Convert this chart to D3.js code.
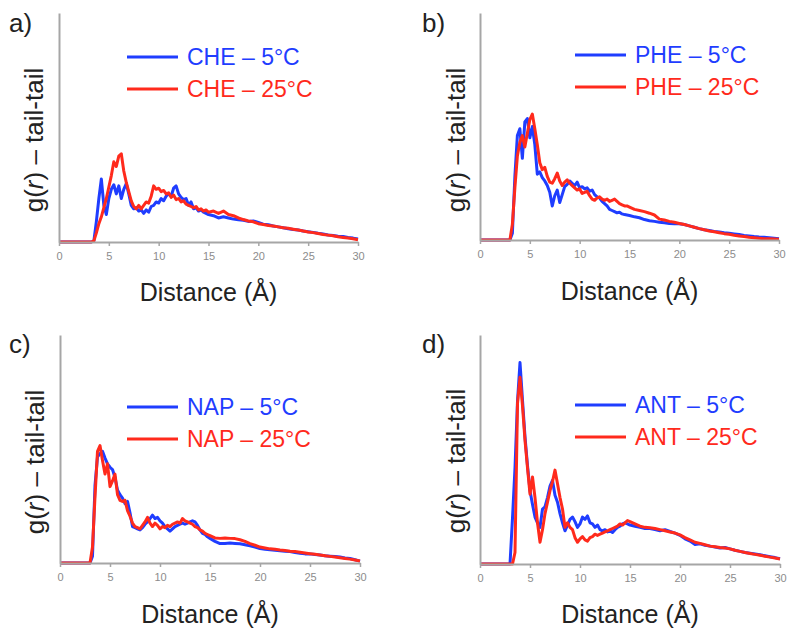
<!DOCTYPE html>
<html><head><meta charset="utf-8">
<script src="https://cdn.jsdelivr.net/npm/d3@7"></script>
<style>
body{margin:0;background:#fff}
svg{display:block}
text{font-family:"Liberation Sans",Arial,Helvetica,sans-serif}
</style>
</head><body>
<svg id="chart" width="800" height="639"></svg>
<script>
// ---------------- DATA ----------------
const distance = [0,
  3,3.25,3.5,3.75, 4,4.25,4.5,4.75, 5,5.25,5.5,5.75, 6,6.25,6.5,6.75,
  7,7.25,7.5,7.75, 8,8.25,8.5,8.75, 9,9.25,9.5,9.75, 10,10.25,10.5,10.75,
  11,11.25,11.5,11.75, 12,12.25,12.5,12.75, 13,13.25,13.5,13.75, 14,14.25,14.5,14.75, 15,
  15.5,16,16.5,17,17.5,18,18.5,19,19.5,20,
  20.5,21,21.5,22,22.5,23,23.5,24,24.5,25,
  25.5,26,26.5,27,27.5,28,28.5,29,29.5,30];

const cheCold = [0,
  0,0,0.05,0.9, 1.9,2.75,1.6,1.2, 1.9,2.3,2.5,2.1, 2.45,1.9,2.3,2.55,
  2.1,1.6,1.45,1.5, 1.35,1.4,1.25,1.4, 1.3,1.55,1.6,1.75, 1.7,1.9,1.8,2.0,
  2.1,2.0,2.35,2.45, 2.1,1.95,1.85,1.9, 1.6,1.75,1.45,1.5, 1.35,1.4,1.3,1.25, 1.2,
  1.15,1.05,1.1,1.05,1.0,0.97,0.95,0.9,0.92,0.85,
  0.78,0.75,0.7,0.66,0.62,0.58,0.55,0.52,0.48,0.45,
  0.42,0.38,0.35,0.31,0.28,0.25,0.24,0.2,0.17,0.13];
const cheWarm = [0,
  0,0,0.05,0.4, 0.8,1.1,1.5,1.9, 2.4,2.9,3.5,3.3, 3.75,3.85,3.1,2.6,
  2.2,1.8,1.55,1.45, 1.6,1.45,1.6,1.75, 1.7,2.0,2.45,2.3, 2.35,2.2,2.25,2.1,
  2.15,1.95,2.05,1.85, 1.9,1.75,1.8,1.65, 1.6,1.55,1.5,1.55, 1.4,1.45,1.35,1.4, 1.3,
  1.35,1.25,1.35,1.2,1.15,1.05,0.98,0.92,0.88,0.8,
  0.76,0.72,0.7,0.66,0.62,0.6,0.56,0.52,0.48,0.44,
  0.41,0.37,0.33,0.3,0.27,0.23,0.2,0.17,0.14,0.1];

const pheCold = [0,
  0,0.3,2.8,4.6, 4.9,3.6,5.2,5.35, 4.5,5.0,4.2,2.9, 3.0,2.75,2.6,2.4,
  2.1,1.5,1.95,2.2, 1.65,2.0,2.35,2.45, 2.6,2.5,2.4,2.55, 2.3,2.35,2.25,2.3,
  2.15,2.2,2.0,1.9, 1.85,1.7,1.6,1.5, 1.35,1.3,1.25,1.2, 1.22,1.15,1.12,1.1, 1.08,
  1.02,0.98,0.9,0.85,0.82,0.78,0.76,0.73,0.72,0.72,
  0.68,0.62,0.56,0.5,0.45,0.42,0.38,0.35,0.32,0.3,
  0.27,0.24,0.2,0.18,0.15,0.13,0.12,0.1,0.08,0.06];
const pheWarm = [0,
  0,0.7,2.3,3.7, 4.3,4.6,4.1,4.7, 5.3,5.55,4.9,4.2, 3.4,3.1,3.2,2.8,
  2.55,2.5,2.7,2.95, 2.6,2.4,2.55,2.65, 2.5,2.4,2.3,2.2, 2.25,2.05,2.1,2.15,
  1.95,1.8,1.75,1.85, 1.9,1.8,1.75,1.8, 1.7,1.75,1.8,1.7, 1.6,1.55,1.5,1.5, 1.45,
  1.35,1.3,1.25,1.18,1.1,0.92,0.88,0.82,0.78,0.73,
  0.68,0.62,0.56,0.5,0.45,0.4,0.36,0.32,0.28,0.25,
  0.21,0.18,0.15,0.12,0.1,0.08,0.06,0.05,0.04,0.03];

const napCold = [0,
  0,0.3,3.4,4.65, 4.8,4.9,4.6,4.35, 4.2,4.1,3.75,3.2, 3.0,2.85,2.6,2.7,
  2.2,1.6,1.55,1.5, 1.45,1.55,1.7,1.8, 1.95,2.1,1.95,2.0, 1.85,1.75,1.6,1.5,
  1.4,1.5,1.6,1.65, 1.7,1.75,1.7,1.75, 1.8,1.85,1.8,1.65, 1.45,1.3,1.25,1.15, 1.08,
  0.95,0.85,0.86,0.88,0.86,0.84,0.8,0.75,0.7,0.63,
  0.6,0.58,0.56,0.54,0.52,0.5,0.46,0.43,0.4,0.4,
  0.37,0.35,0.32,0.3,0.28,0.26,0.22,0.2,0.14,0.08];
const napWarm = [0,
  0,0.7,2.9,4.9, 5.15,4.5,3.9,4.35, 3.35,3.6,3.9,3.0, 2.75,2.7,2.75,2.3,
  2.05,1.75,1.6,1.55, 1.5,1.65,1.8,2.0, 1.75,1.6,1.75,1.65, 1.5,1.6,1.55,1.65,
  1.6,1.7,1.75,1.8, 1.75,1.95,1.85,1.8, 1.75,1.7,1.6,1.55, 1.45,1.4,1.3,1.25, 1.2,
  1.1,1.08,1.1,1.08,1.07,1.02,0.95,0.85,0.78,0.7,
  0.66,0.62,0.6,0.57,0.55,0.52,0.5,0.47,0.44,0.41,
  0.38,0.35,0.32,0.29,0.26,0.23,0.2,0.17,0.13,0.09];

const antCold = [0,
  0,2.0,4.2,7.1, 8.8,7.15,5.55,4.3, 3.2,2.6,2.05,1.8, 1.6,2.4,2.5,2.9,
  3.4,3.65,3.0,2.7, 2.2,1.8,1.45,1.7, 1.95,2.05,1.85,1.6, 1.75,2.05,1.95,2.1,
  1.8,1.75,1.6,1.7, 1.5,1.45,1.5,1.4, 1.45,1.38,1.5,1.6, 1.65,1.75,1.8,1.75, 1.7,
  1.65,1.6,1.55,1.55,1.5,1.45,1.5,1.42,1.35,1.25,
  1.1,1.0,0.85,0.88,0.82,0.78,0.74,0.7,0.72,0.66,
  0.6,0.55,0.5,0.47,0.44,0.4,0.36,0.32,0.28,0.23];
const antWarm = [0,
  0,0,0.5,7.0, 8.15,6.9,5.4,4.2, 3.05,3.8,2.9,1.8, 0.95,1.5,2.2,2.7,
  3.2,3.6,4.1,3.5, 2.9,2.4,1.6,1.8, 1.6,1.5,1.15,0.95, 1.1,1.2,1.05,1.0,
  1.15,1.2,1.3,1.25, 1.3,1.35,1.4,1.45, 1.5,1.55,1.6,1.65, 1.75,1.7,1.8,1.9, 1.85,
  1.75,1.65,1.6,1.58,1.55,1.5,1.45,1.4,1.35,1.27,
  1.15,1.05,0.95,0.9,0.84,0.78,0.75,0.72,0.7,0.66,
  0.6,0.55,0.5,0.46,0.42,0.38,0.34,0.3,0.26,0.22];

const xTicks = [0, 5, 10, 15, 20, 25, 30];
const panelLetters = ["a)", "b)", "c)", "d)"];
const compounds = ["CHE", "PHE", "NAP", "ANT"];
const temps = ["5°C", "25°C"];
const xTitle = "Distance (Å)";

// ---------------- LAYOUT ----------------
const COLD = "#1f3dff", WARM = "#ff2a1c";
const layout = [
  {left:59,  right:358, bottom:242, top:13,  letterX:9,   letterY:32,  labX:35,  labY:140, titleY:301, legX:127, legY:57},
  {left:480, right:779, bottom:240, top:13,  letterX:422, letterY:32,  labX:457, labY:140, titleY:300, legX:575, legY:55},
  {left:60,  right:360, bottom:563, top:335, letterX:9,   letterY:353, labX:36,  labY:462, titleY:623, legX:127, legY:407},
  {left:480, right:780, bottom:564, top:335, letterX:422, letterY:353, labX:457, labY:461, titleY:623, legX:575, legY:405}
];
const series = [[cheCold, cheWarm], [pheCold, pheWarm], [napCold, napWarm], [antCold, antWarm]];

const svg = d3.select("#chart");

layout.forEach((L, i) => {
  const g = svg.append("g");
  const x = d3.scaleLinear().domain([0, 30]).range([L.left, L.right]);
  const y = d3.scaleLinear().domain([0, 10]).range([L.bottom, L.top]);

  // curves
  const line = d3.line().x((d, k) => x(distance[k])).y(d => y(d));
  [[series[i][0], COLD], [series[i][1], WARM]].forEach(([vals, col]) => {
    g.append("path").datum(vals).attr("d", line)
      .attr("fill", "none").attr("stroke", col).attr("stroke-width", 3)
      .attr("stroke-linejoin", "round");
  });

  // x axis
  const xAxis = d3.axisBottom(x).tickValues(xTicks).tickSize(4).tickSizeOuter(0).tickPadding(6);
  const ax = g.append("g").attr("transform", `translate(0,${L.bottom})`).call(xAxis);
  ax.select(".domain").attr("stroke", "#a6a6a6").attr("stroke-width", 2);
  ax.selectAll(".tick line").attr("stroke", "#a6a6a6").attr("stroke-width", 1.5);
  ax.selectAll(".tick text").attr("fill", "#8c8c8c").attr("font-size", 11)
    .attr("font-family", "'DejaVu Sans', sans-serif");

  // y axis (no ticks)
  const yAxis = d3.axisLeft(y).tickValues([]).tickSizeOuter(0);
  const ay = g.append("g").attr("transform", `translate(${L.left},0)`).call(yAxis);
  ay.select(".domain").attr("stroke", "#a6a6a6").attr("stroke-width", 2);

  // panel letter
  g.append("text").attr("x", L.letterX).attr("y", L.letterY)
    .attr("font-size", 26).attr("fill", "#222").text(panelLetters[i]);

  // y label
  const yl = g.append("text").attr("transform", `translate(${L.labX + 8},${L.labY}) rotate(-90)`)
    .attr("text-anchor", "middle").attr("font-size", 26).attr("fill", "#222");
  yl.append("tspan").text("g(");
  yl.append("tspan").attr("font-style", "italic").text("r");
  yl.append("tspan").text(") – tail-tail");

  // x title
  g.append("text").attr("x", (L.left + L.right) / 2).attr("y", L.titleY)
    .attr("text-anchor", "middle").attr("font-size", 25).attr("fill", "#222").text(xTitle);

  // legend
  [COLD, WARM].forEach((col, k) => {
    const ly = L.legY + k * 32;
    g.append("line").attr("x1", L.legX).attr("x2", L.legX + 51).attr("y1", ly).attr("y2", ly)
      .attr("stroke", col).attr("stroke-width", 3);
    g.append("text").attr("x", L.legX + 60).attr("y", ly + 8)
      .attr("font-size", 23).attr("fill", col).text(`${compounds[i]} – ${temps[k]}`);
  });
});
</script>
</body></html>
